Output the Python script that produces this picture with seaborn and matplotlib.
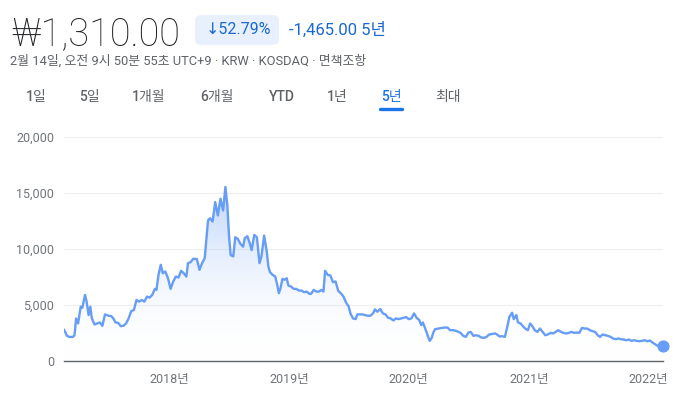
import pandas as pd
import numpy as np
import matplotlib
import matplotlib.pyplot as plt
import matplotlib.dates as mdates
from matplotlib.patches import FancyBboxPatch
import seaborn as sns

sns.set_style("white")
plt.rcParams['font.family'] = ['Roboto', 'Noto Sans CJK KR', 'DejaVu Sans']

# weekly-ish closes, days counted from 2017-02-14
start_date = pd.Timestamp('2017-02-14')
day_offset = [0, 9, 16, 27, 32, 37, 43, 51, 56, 64, 69, 75, 80, 85, 93, 101, 109, 117,
              125, 136, 144, 152, 157, 165, 173, 181, 189, 197, 205, 213, 221, 229, 237,
              245, 253, 261, 269, 277, 282, 288, 295, 301, 309, 317, 325, 333, 341, 349,
              357, 365, 373, 378, 386, 394, 405, 413, 421, 429, 439, 445, 453, 461, 469,
              477, 485, 492, 498, 503, 508, 516, 522, 530, 538, 546, 551, 559, 567, 572,
              580, 588, 596, 602, 610, 618, 623, 628, 636, 644, 650, 655, 660, 666, 673,
              679, 684, 692, 700, 708, 716, 724, 732, 740, 748, 753, 761, 769, 777, 785,
              791, 796, 804, 812, 820, 828, 836, 844, 852, 860, 868, 873, 881, 889, 894,
              902, 910, 918, 926, 934, 942, 948, 955, 964, 972, 980, 988, 996, 1004, 1012,
              1020, 1028, 1036, 1043, 1051, 1059, 1067, 1075, 1083, 1089, 1094, 1099, 1105,
              1110, 1115, 1121, 1126, 1131, 1142, 1153, 1161, 1169, 1177, 1187, 1198, 1209,
              1217, 1225, 1233, 1240, 1248, 1256, 1264, 1272, 1280, 1288, 1296, 1307, 1315,
              1320, 1328, 1336, 1344, 1350, 1358, 1366, 1371, 1379, 1384, 1392, 1398, 1406,
              1414, 1421, 1427, 1435, 1443, 1451, 1459, 1467, 1475, 1483, 1491, 1499, 1507,
              1515, 1523, 1531, 1539, 1547, 1555, 1563, 1571, 1579, 1587, 1595, 1603, 1611,
              1619, 1627, 1634, 1642, 1650, 1658, 1666, 1674, 1682, 1690, 1698, 1706, 1714,
              1722, 1730, 1738, 1746, 1754, 1762, 1770, 1778, 1786, 1794, 1802, 1810, 1818,
              1826]
price = [2810, 2250, 2150, 2150, 2300, 3800, 3350, 4850, 4760, 5900, 5300, 4100, 4850,
         3800, 3260, 3350, 3440, 3140, 4160, 4040, 4010, 3740, 3440, 3410, 3110, 3140,
         3350, 3800, 4460, 4550, 5450, 5300, 5450, 5300, 5750, 5660, 5900, 6440, 6350,
         7690, 8590, 7840, 7990, 7390, 6440, 7100, 7540, 7450, 8050, 7840, 7540, 8740,
         8830, 9130, 9100, 8140, 8740, 9190, 12550, 12750, 12450, 14190, 13000, 14490,
         13440, 15540, 13890, 11200, 9460, 9340, 11050, 10900, 10450, 10210, 10960, 11140,
         10450, 9900, 11260, 11050, 8740, 9340, 11200, 9790, 8440, 7930, 7690, 7540, 6800,
         6050, 6500, 7340, 7250, 7390, 6740, 6650, 6440, 6440, 6290, 6290, 6140, 6200,
         5990, 5990, 6350, 6200, 6200, 6350, 6200, 8050, 7690, 7630, 7040, 7100, 6260,
         6050, 5750, 5210, 4850, 4250, 3800, 3740, 4160, 4160, 4160, 4100, 4040, 4040,
         4250, 4610, 4400, 4640, 4250, 4160, 3860, 3800, 3620, 3800, 3740, 3800, 3860,
         3920, 3740, 3800, 4250, 3860, 3650, 3200, 3440, 3050, 2600, 2155, 1800, 2065,
         2545, 2840, 2900, 2960, 2990, 2990, 2750, 2750, 2660, 2510, 2245, 2155, 2545,
         2600, 2245, 2300, 2245, 2095, 2065, 2155, 2365, 2425, 2455, 2365, 2185, 2215,
         2155, 2900, 3950, 4310, 3740, 4100, 3440, 3350, 3140, 2900, 2750, 3350, 3140,
         2750, 2600, 2900, 2600, 2300, 2365, 2510, 2455, 2600, 2750, 2600, 2510, 2455,
         2510, 2600, 2510, 2545, 2510, 2960, 2900, 2900, 2750, 2660, 2600, 2300, 2155,
         2365, 2300, 2245, 2155, 2005, 1945, 2005, 1945, 1915, 1855, 1915, 1800, 1855,
         1800, 1765, 1800, 1855, 1765, 1825, 1645, 1495, 1345, 1405, 1310]

year_ticks = ['2018-01-01', '2019-01-01', '2020-01-01', '2021-01-01', '2022-01-01']
year_labels = ['2018년', '2019년', '2020년', '2021년', '2022년']
y_ticks = [0, 5000, 10000, 15000, 20000]
tabs = ['1일', '5일', '1개월', '6개월', 'YTD', '1년', '5년', '최대']
tab_x = [36, 89, 149, 217, 282, 337, 391, 448]

df = pd.DataFrame({'date': start_date + pd.to_timedelta(day_offset, unit='D'),
                   'price': price})

W, H = 678, 394
fig = plt.figure(figsize=(W / 100, H / 100), dpi=100)
fig.patch.set_facecolor('white')

def px(x, y):
    return x / W, 1 - y / H

line_color = '#669df6'
gray = '#70757a'

# header
fig.text(*px(11, 45), '₩1,310.00', fontsize=27.3, color='#202124', va='baseline',
         fontweight='light', family=['Roboto', 'DejaVu Sans'])
badge = FancyBboxPatch(px(195, 45), 84 / W, 30 / H, transform=fig.transFigure,
                       boxstyle='round,pad=0,rounding_size=0.012',
                       facecolor='#e8f0fe', edgecolor='none')
fig.patches.append(badge)
fig.text(*px(238, 30), '↓52.79%', fontsize=11.5, color='#1967d2', ha='center', va='center',
         family=['Roboto', 'DejaVu Sans'])
fig.text(*px(289, 30), '-1,465.00 5년', fontsize=12, color='#1967d2', va='center')
fig.text(*px(10, 61), '2월 14일, 오전 9시 50분 55초 UTC+9 · KRW · KOSDAQ · 면책조항',
         fontsize=9.3, color='#5f6368', va='center')

for t, x in zip(tabs, tab_x):
    c = '#1a73e8' if t == '5년' else '#5f6368'
    fig.text(*px(x, 97), t, fontsize=10, color=c, ha='center', va='center',
             fontweight='medium')
fig.add_artist(matplotlib.lines.Line2D([380 / W, 402 / W], [1 - 108.5 / H] * 2,
                                        color='#1a73e8', lw=2.4,
                                        solid_capstyle='round'))

# chart
ax = fig.add_axes([64 / W, 33 / H, (663 - 64) / W, (361 - 137) / H])
sns.lineplot(data=df, x='date', y='price', ax=ax, color=line_color, lw=1.7)

poly = ax.fill_between(df['date'], df['price'], 0, color='none')
grad = np.linspace(0, 1, 256).reshape(-1, 1)
cmap = matplotlib.colors.LinearSegmentedColormap.from_list(
    'g', [(1, 1, 1, 0), (0.40, 0.62, 0.96, 0.45)])
x0, x1 = mdates.date2num(df['date'].iloc[0]), mdates.date2num(df['date'].iloc[-1])
im = ax.imshow(grad, aspect='auto', cmap=cmap, origin='lower',
               extent=[x0, x1, 0, max(price)], zorder=1)
im.set_clip_path(poly.get_paths()[0], transform=ax.transData)

ax.scatter(df['date'].iloc[-1], df['price'].iloc[-1], s=60, color=line_color,
           zorder=5, clip_on=False)

ax.set_xlim(df['date'].iloc[0], df['date'].iloc[-1])
ax.set_ylim(0, 20000)
ax.set_yticks(y_ticks)
ax.set_yticklabels([f'{v:,}' for v in y_ticks])
ax.set_xticks(pd.to_datetime(year_ticks))
ax.set_xticklabels(year_labels)
ax.set_xlabel('')
ax.set_ylabel('')
ax.grid(axis='y', color='#eeeeee', lw=0.8)
ax.grid(axis='x', visible=False)
for s in ['top', 'right', 'left']:
    ax.spines[s].set_visible(False)
ax.spines['bottom'].set_color('#5f6368')
ax.spines['bottom'].set_linewidth(1)
ax.tick_params(axis='y', length=0, pad=7, labelsize=9, labelcolor=gray)
ax.tick_params(axis='x', length=4, width=1, color='#5f6368', pad=5, labelsize=9,
               labelcolor=gray)

fig.savefig('out.png', dpi=100, facecolor='white')
